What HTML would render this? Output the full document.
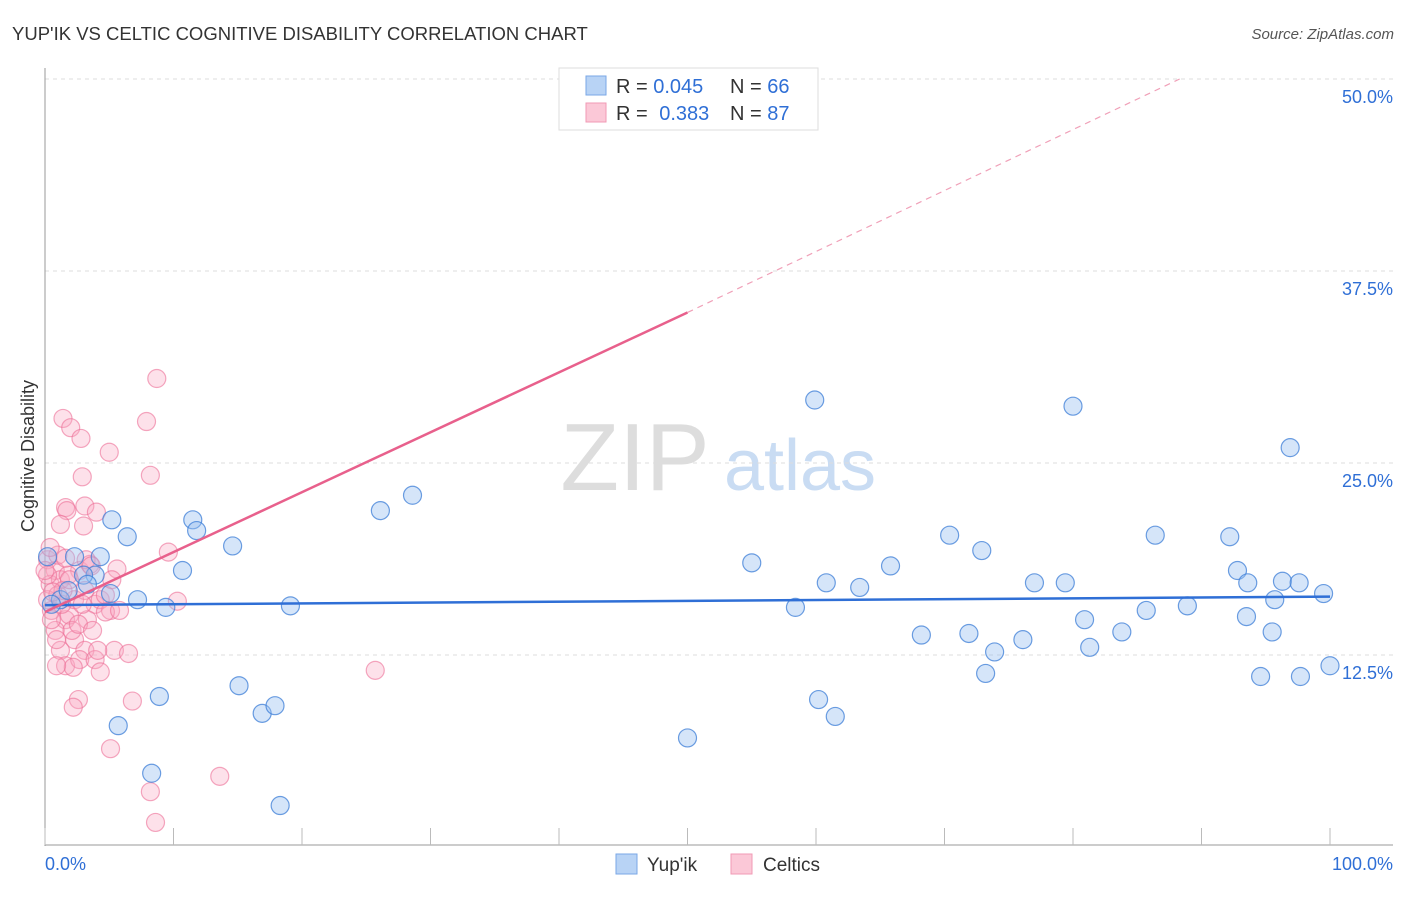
<!DOCTYPE html>
<html><head><meta charset="utf-8"><style>
body{margin:0;background:#fff;font-family:"Liberation Sans",sans-serif;}
svg text{font-family:"Liberation Sans",sans-serif;}
</style></head><body>
<svg id="chart" width="1406" height="892" xmlns="http://www.w3.org/2000/svg">
<text x="12" y="40" font-size="18.5" fill="#333">YUP'IK VS CELTIC COGNITIVE DISABILITY CORRELATION CHART</text>
<text x="1394" y="39" font-size="15" fill="#555" text-anchor="end" font-style="italic">Source: ZipAtlas.com</text>
<text x="34" y="456" font-size="18" fill="#333" text-anchor="middle" transform="rotate(-90 34 456)">Cognitive Disability</text>
<g><text x="635" y="490" font-size="96" fill="#ddd" font-family="Liberation Serif" text-anchor="middle">ZIP</text><text x="800" y="490" font-size="72" fill="#c9dcf3" text-anchor="middle">atlas</text></g>
<g id="grid"></g>
<g id="axes"></g>
<g id="pts"></g>
<g id="trend"></g>
<g>
<rect x="559" y="68" width="259" height="62" fill="#fff" stroke="#ddd"/>
<rect x="586" y="76" width="20" height="19" fill="#b8d3f5" stroke="#7aa7e6"/>
<rect x="586" y="103" width="20" height="19" fill="#fbc8d7" stroke="#f09ab4"/>
<text x="616" y="93" font-size="20" fill="#333">R = <tspan fill="#2f6fd6">0.045</tspan></text>
<text x="730" y="93" font-size="20" fill="#333">N = <tspan fill="#2f6fd6">66</tspan></text>
<text x="616" y="120" font-size="20" fill="#333">R = <tspan fill="#2f6fd6" dx="6">0.383</tspan></text>
<text x="730" y="120" font-size="20" fill="#333">N = <tspan fill="#2f6fd6">87</tspan></text>
</g>
<g>
<rect x="616" y="854" width="21" height="20" fill="#b8d3f5" stroke="#7aa7e6"/>
<text x="647" y="871" font-size="19" fill="#333">Yup'ik</text>
<rect x="731" y="854" width="21" height="20" fill="#fbc8d7" stroke="#f09ab4"/>
<text x="763" y="871" font-size="19" fill="#333">Celtics</text>
</g>
</svg>
<script>
const yTicks=[12.5,25,37.5,50];
const yTickLabels=["12.5%","25.0%","37.5%","50.0%"];
const xTickLabels=["0.0%","100.0%"];
const blueX=[0.2,2.3,4.3,3.9,3.0,5.2,6.4,5.1,7.2,9.4,11.5,11.8,10.7,14.6,8.9,5.7,8.3,15.1,16.9,17.9,18.3,19.1,26.1,28.6,50.0,55.0,58.4,59.9,60.8,60.2,61.5,63.4,65.8,68.2,70.4,71.9,72.9,73.2,73.9,76.1,77.0,79.4,80.0,80.9,81.3,83.8,85.7,86.4,88.9,92.2,92.8,93.5,93.6,94.6,95.5,95.7,96.3,96.9,97.6,97.7,99.5,100,1.2,0.5,1.8,3.3];
const blueY=[18.9,18.9,18.9,17.7,17.7,21.3,20.2,16.5,16.1,15.6,21.3,20.6,18.0,19.6,9.8,7.9,4.8,10.5,8.7,9.2,2.7,15.7,21.9,22.9,7.1,18.5,15.6,29.1,17.2,9.6,8.5,16.9,18.3,13.8,20.3,13.9,19.3,11.3,12.7,13.5,17.2,17.2,28.7,14.8,13.0,14.0,15.4,20.3,15.7,20.2,18.0,15.0,17.2,11.1,14.0,16.1,17.3,26.0,17.2,11.1,16.5,11.8,16.1,15.8,16.7,17.1];
const pinkX=[8.7,1.4,2.0,2.8,5.0,7.9,2.9,8.2,1.6,1.7,3.1,4.0,1.2,3.0,9.6,5.6,10.3,5.4,6.5,6.8,2.6,2.2,5.1,13.6,8.2,8.6,25.7,0.2,0.8,0.4,1.2,0.2,0.5,1.0,1.6,0.8,1.9,2.3,2.7,3.1,3.5,3.9,4.3,4.7,5.1,2.3,3.1,1.2,1.6,2.7,3.9,4.3,2.2,0.5,1.8,1.0,3.3,1.3,2.1,5.2,4.7,0.2,0.9,2.6,3.7,5.8,0,1.4,2.9,4.1,1.6,3.2,0.4,0.9,1.9,0.6,3.6];
const pinkY=[30.5,27.9,27.3,26.6,25.7,27.7,24.1,24.2,22.1,21.9,22.2,21.8,21.0,20.9,19.2,18.1,16.0,12.8,12.6,9.5,9.6,9.1,6.4,4.6,3.6,1.6,11.5,18.7,18.0,17.1,17.4,16.1,15.4,16.4,14.8,14.1,15.1,16.1,18.0,16.7,18.4,15.8,16.1,16.4,15.4,13.5,12.8,12.8,11.8,12.2,12.2,11.4,11.7,14.8,17.7,19.0,14.8,15.8,14.1,17.4,15.3,17.7,13.5,14.5,14.1,15.4,18.0,16.7,15.8,12.8,18.8,18.7,19.5,11.8,17.4,16.6,18.3];
const blueTrend=[15.75,16.3];
const pinkTrendX=[0,50,88.3];
const pinkTrendY=[15.3,34.8,50];
const X0=45,X1=1330,YB=847,PX=15.36;
const sx=v=>X0+(X1-X0)*v/100, sy=v=>YB-v*PX;
const NS="http://www.w3.org/2000/svg";
function mk(tag,attrs,parent){const e=document.createElementNS(NS,tag);for(const k in attrs)e.setAttribute(k,attrs[k]);parent.appendChild(e);return e;}
const grid=document.getElementById('grid'),axes=document.getElementById('axes'),pts=document.getElementById('pts'),tr=document.getElementById('trend');
yTicks.forEach((t,i)=>{
 const l=mk('line',{x1:45,x2:1393,y1:sy(t),y2:sy(t),stroke:'#ddd','stroke-dasharray':'4,4'},grid);
 
 
 const tx=mk('text',{x:1393,y:sy(t)+24,'font-size':18,fill:'#2f6fd6','text-anchor':'end'},axes);
 tx.textContent=yTickLabels[i];
 
 
});
const la=mk('line',{x1:45,x2:45,y1:68,y2:846,stroke:'#999'},axes);


const lb=mk('line',{x1:45,x2:1393,y1:845,y2:845,stroke:'#999'},axes);


for(let i=0;i<=10;i++){const x=sx(i*10);const t=mk('line',{x1:x,x2:x,y1:828,y2:845,stroke:'#bbb'},axes);
 
 }
[[0,'start',45],[100,'end',1393]].forEach((d,i)=>{const t=mk('text',{x:d[2],y:870,'font-size':18,fill:'#2f6fd6','text-anchor':d[1]},axes);t.textContent=xTickLabels[i];
 
 });
pinkX.forEach((x,i)=>{const c=mk('circle',{cx:sx(x),cy:sy(pinkY[i]),r:9,fill:'rgba(248,170,195,0.35)',stroke:'rgba(236,110,150,0.6)','stroke-width':1.2},pts);
 
 });
blueX.forEach((x,i)=>{const c=mk('circle',{cx:sx(x),cy:sy(blueY[i]),r:9,fill:'rgba(150,190,240,0.4)',stroke:'rgba(60,125,215,0.75)','stroke-width':1.2},pts);
 
 });
const bl=mk('line',{x1:sx(0),y1:sy(blueTrend[0]),x2:sx(100),y2:sy(blueTrend[1]),stroke:'#2f6fd6','stroke-width':2.5},tr);


const pl=mk('line',{x1:sx(pinkTrendX[0]),y1:sy(pinkTrendY[0]),x2:sx(pinkTrendX[1]),y2:sy(pinkTrendY[1]),stroke:'#e8608c','stroke-width':2.5},tr);


const pd=mk('line',{x1:sx(pinkTrendX[1]),y1:sy(pinkTrendY[1]),x2:sx(pinkTrendX[2]),y2:sy(pinkTrendY[2]),stroke:'#f0a0b8','stroke-width':1.2,'stroke-dasharray':'6,5'},tr);


</script>
</body></html>
